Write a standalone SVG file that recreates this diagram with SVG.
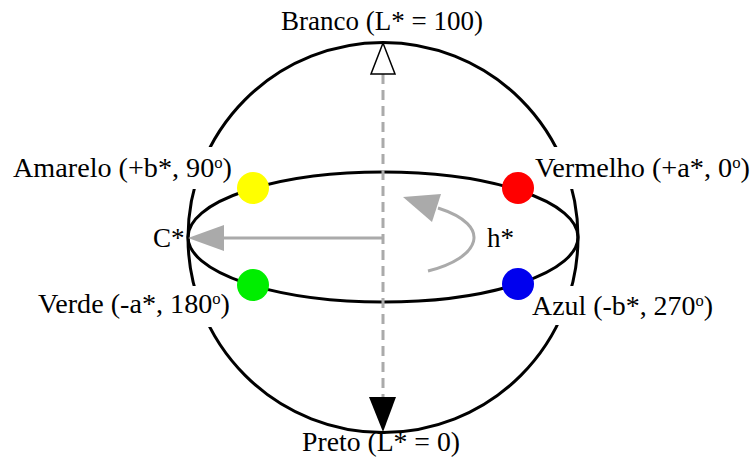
<svg xmlns="http://www.w3.org/2000/svg" width="754" height="471" viewBox="0 0 754 471">
<style>
  text { font-family: "Liberation Serif", "Times New Roman", serif; font-size: 27px; fill: #000; }
  .sup { font-size: 16px; }
  .outline { fill: none; stroke: #000; stroke-width: 3; }
  .bg { fill: #fff; }
  .gray { stroke: #aaa; stroke-width: 3; fill: none; }
  .grayfill { fill: #aaa; }
</style>
<rect width="754" height="471" fill="#fff"/>
<g id="sphere">
  <circle class="outline" cx="383" cy="237.5" r="195"/>
  <ellipse class="outline" cx="383" cy="237" rx="195" ry="65"/>
</g>
<g id="label-backgrounds">
  <rect class="bg" x="8" y="147" width="236" height="42"/>
  <rect class="bg" x="525" y="147" width="229" height="42"/>
  <rect class="bg" x="30" y="286" width="204" height="41"/>
  <rect class="bg" x="522" y="286" width="200" height="39"/>
</g>
<g id="connectors">
  <line x1="383" y1="74" x2="383" y2="397" stroke="#aaa" stroke-width="3" stroke-dasharray="10,6"/>
  <line class="gray" x1="383" y1="238" x2="220" y2="238"/>
  <polygon class="grayfill" points="188,238 224,225 224,251"/>
  <path class="gray" d="M428 271 C480 258 494 226 438 208"/>
  <polygon class="grayfill" points="403,197 441,194 432,222"/>
  <polygon points="383,43 371,74 395,74" fill="#fff" stroke="#000" stroke-width="1.5"/>
  <polygon points="383,432 369,397 396,397" fill="#000"/>
</g>
<g id="branco"><text x="382" y="30" text-anchor="middle" textLength="202" lengthAdjust="spacingAndGlyphs">Branco (L* = 100)</text></g>
<g id="preto"><text x="381" y="451" text-anchor="middle" textLength="158" lengthAdjust="spacingAndGlyphs">Preto (L* = 0)</text></g>
<g id="amarelo">
  <circle cx="253" cy="188" r="16" fill="#ffff00"/>
  <text x="13" y="177" textLength="219" lengthAdjust="spacingAndGlyphs">Amarelo (+b*, 90<tspan class="sup" dy="-9">o</tspan><tspan dy="9">)</tspan></text>
</g>
<g id="vermelho">
  <circle cx="518" cy="188" r="16" fill="#ff0000"/>
  <text x="535" y="177" textLength="215" lengthAdjust="spacingAndGlyphs">Vermelho (+a*, 0<tspan class="sup" dy="-9">o</tspan><tspan dy="9">)</tspan></text>
</g>
<g id="verde">
  <circle cx="253" cy="285" r="16" fill="#00ee00"/>
  <text x="38" y="313" textLength="192" lengthAdjust="spacingAndGlyphs">Verde (-a*, 180<tspan class="sup" dy="-9">o</tspan><tspan dy="9">)</tspan></text>
</g>
<g id="azul">
  <circle cx="518" cy="284" r="16" fill="#0000ee"/>
  <text x="532" y="315" textLength="181" lengthAdjust="spacingAndGlyphs">Azul (-b*, 270<tspan class="sup" dy="-9">o</tspan><tspan dy="9">)</tspan></text>
</g>
<g id="c-star"><text x="153" y="247">C*</text></g>
<g id="h-star"><text x="487" y="247">h*</text></g>
</svg>
